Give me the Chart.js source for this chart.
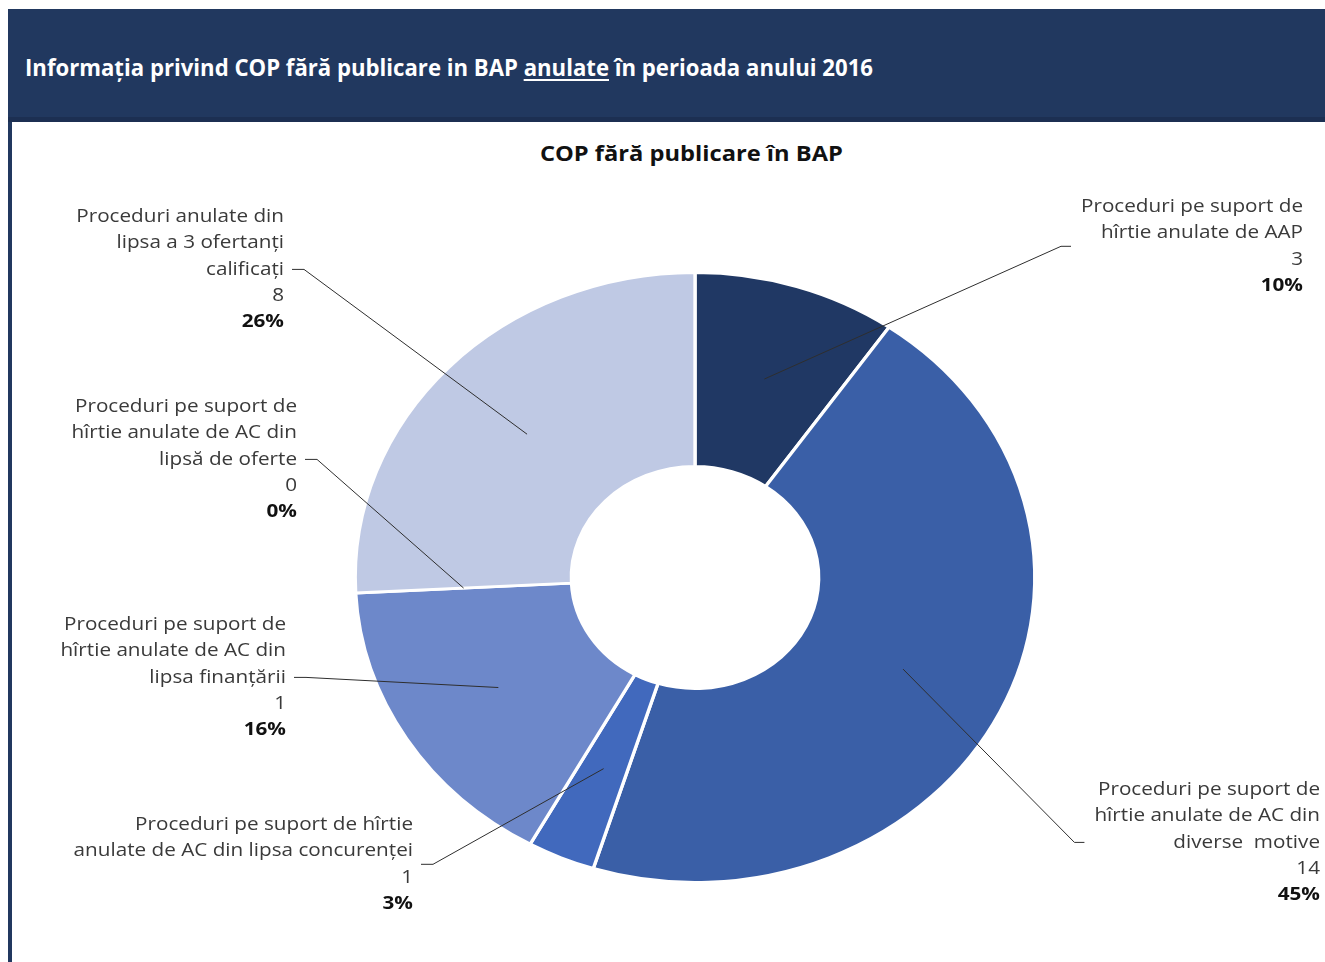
<!DOCTYPE html>
<html lang="ro">
<head>
<meta charset="utf-8">
<title>COP fără publicare în BAP</title>
<script src="https://cdn.jsdelivr.net/npm/chart.js@4.4.1/dist/chart.umd.min.js"></script>
<style>
  html, body { margin: 0; padding: 0; background: #fff; width: 1325px; height: 962px; overflow: hidden; }
  #band { position: absolute; left: 8px; top: 9px; width: 1317px; height: 108px; background: #21385f; border-bottom: 5px solid #1c2f52; }
  #band-text { position: absolute; left: 17px; top: 43px; color: #fff; font: bold 24px "Open Sans", sans-serif; line-height: 30px; white-space: nowrap; transform-origin: left center; }
  #band-text u { text-decoration-thickness: 2px; text-underline-offset: 3px; }
  #rail { position: absolute; left: 8px; top: 122px; width: 4px; height: 840px; background: #21385f; }
  #chart-title { position: absolute; left: 0; top: 139px; width: 1382px; text-align: center; font: bold 21px "Open Sans", sans-serif; line-height: 28px; color: #111; }
  #chart-title span { display: inline-block; white-space: nowrap; transform-origin: center center; }
  canvas { position: absolute; left: 0; top: 0; }
</style>
</head>
<body>
<div id="band"><div id="band-text">Informaţia privind COP fără publicare in BAP <u>anulate</u> în perioada anului 2016</div></div>
<div id="rail"></div>
<div id="chart-title"><span>COP fără publicare în BAP</span></div>
<canvas id="copChart" width="1325" height="962"></canvas>
<script>
// slice categories (as wrapped in the picture)
const categories = [
	["Proceduri pe suport de", "hîrtie anulate de AAP"],
	["Proceduri pe suport de", "hîrtie anulate de AC din", "diverse  motive"],
	["Proceduri pe suport de hîrtie", "anulate de AC din lipsa concurenţei"],
	["Proceduri pe suport de", "hîrtie anulate de AC din", "lipsa finanţării"],
	["Proceduri pe suport de", "hîrtie anulate de AC din", "lipsă de oferte"],
	["Proceduri anulate din", "lipsa a 3 ofertanţi", "calificaţi"],
];
const sliceValues = [3, 14, 1, 5, 0, 8];
// counts as printed in the labels
const shownCounts = [3, 14, 1, 1, 0, 8];

const sliceColors = ["#203864", "#3a5fa7", "#4169bd", "#6d88ca", "#8fa3d6", "#bfc9e4"];

// label block placement: right edge and first line centre
const labelBoxes = [
	{ side: "right", right: 1303, top: 207 },
	{ side: "right", right: 1320, top: 790 },
	{ side: "left", right: 413, top: 825 },
	{ side: "left", right: 286, top: 625 },
	{ side: "left", right: 297, top: 407 },
	{ side: "left", right: 284, top: 217 },
];

const SX = 1.114; // the picture is stretched horizontally
const LINE = 26.2;

function fitWidth(el, target) {
	const w = el.getBoundingClientRect().width;
	el.style.transform = "scaleX(" + (target / w) + ")";
}
fitWidth(document.getElementById("band-text"), 848);
fitWidth(document.querySelector("#chart-title span"), 303);

const stretchPlugin = {
	id: "stretch",
	beforeDatasetsDraw(chart) {
		const a = chart.getDatasetMeta(0).data[0];
		const c = chart.ctx;
		c.save();
		c.translate(a.x, 0);
		c.scale(SX, 1);
		c.translate(-a.x, 0);
	},
	afterDatasetsDraw(chart) {
		chart.ctx.restore();
	},
};

const labelPlugin = {
	id: "sliceLabels",
	afterDraw(chart) {
		const c = chart.ctx;
		const meta = chart.getDatasetMeta(0);
		const total = sliceValues.reduce((s, v) => s + v, 0);
		c.save();
		c.font = "18px 'Open Sans'";
		const k = 222 / c.measureText("Proceduri pe suport de").width;

		meta.data.forEach(function (arc, i) {
			const box = labelBoxes[i];
			const lines = categories[i].concat([String(shownCounts[i])]);
			const pct = Math.round((sliceValues[i] / total) * 100) + "%";
			c.font = "18px 'Open Sans'";
			let maxW = 0;
			lines.forEach((t) => (maxW = Math.max(maxW, c.measureText(t).width * k)));

			c.textAlign = "right";
			c.textBaseline = "middle";
			lines.forEach(function (t, j) {
				c.save();
				c.translate(box.right, box.top + j * LINE);
				c.scale(k, 1);
				c.fillStyle = "#3a3a3a";
				c.fillText(t, 0, 0);
				c.restore();
			});
			c.save();
			c.translate(box.right, box.top + lines.length * LINE);
			c.scale(k, 1);
			c.font = "bold 18px 'Open Sans'";
			c.fillStyle = "#111";
			c.fillText(pct, 0, 0);
			c.restore();

			// leader line
			const p = arc.tooltipPosition();
			const ax = arc.x + (p.x - arc.x) * SX;
			const ay = p.y;
			const midY = box.top + (lines.length * LINE) / 2;
			let s1, s2;
			if (box.side === "left") {
				s1 = box.right + 8;
				s2 = box.right + 20;
			} else {
				s1 = box.right - maxW - 10;
				s2 = box.right - maxW - 20;
			}
			c.beginPath();
			c.moveTo(s1, midY);
			c.lineTo(s2, midY);
			c.lineTo(ax, ay);
			c.strokeStyle = "#2e2e2e";
			c.lineWidth = 1;
			c.stroke();
		});
		c.restore();
	},
};

new Chart(document.getElementById("copChart"), {
	type: "doughnut",
	data: {
		labels: categories,
		datasets: [
			{
				data: sliceValues,
				backgroundColor: sliceColors,
				borderColor: "#ffffff",
				borderWidth: 3,
			},
		],
	},
	options: {
		responsive: false,
		animation: false,
		events: [],
		radius: 305,
		cutout: "36.4%",
		layout: { padding: { left: 65, top: 193, right: 0, bottom: 0 } },
		plugins: {
			legend: { display: false },
			tooltip: { enabled: false },
			title: { display: false },
		},
	},
	plugins: [stretchPlugin, labelPlugin],
});
</script>
</body>
</html>
